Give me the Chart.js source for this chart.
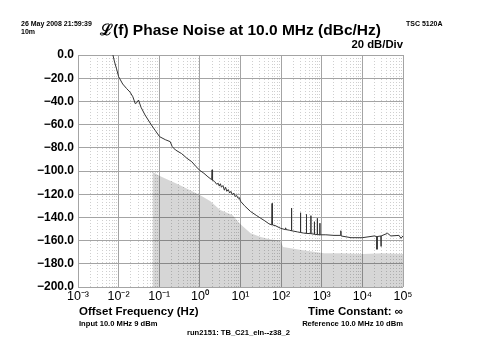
<!DOCTYPE html>
<html><head><meta charset="utf-8">
<script src="https://cdn.jsdelivr.net/npm/chart.js@4/dist/chart.umd.min.js"></script>
<style>
html,body{margin:0;padding:0;background:#fff;}
#wrap{position:relative;width:480px;height:360px;overflow:hidden;font-family:"Liberation Sans",Arial,sans-serif;font-weight:bold;color:#000;}
canvas{position:absolute;left:0;top:0;}
.t{position:absolute;white-space:nowrap;line-height:1;}
</style></head>
<body><div id="wrap">
<canvas id="c" width="480" height="360"></canvas>
<div class="t" style="left:21px;top:20px;font-size:7px;">26 May 2008 21:59:39</div>
<div class="t" style="left:21px;top:28px;font-size:7px;">10m</div>
<div class="t" style="left:406px;top:20px;font-size:7px;">TSC 5120A</div>
<div class="t" style="left:0;width:481px;text-align:center;top:22px;font-size:15.5px;">ℒ(f) Phase Noise at 10.0 MHz (dBc/Hz)</div>
<div class="t" style="right:77px;top:39px;font-size:11.3px;">20 dB/Div</div>
<div class="t" style="left:79px;top:306px;font-size:11.5px;">Offset Frequency (Hz)</div>
<div class="t" style="right:77px;top:306px;font-size:11.5px;">Time Constant: ∞</div>
<div class="t" style="left:79px;top:320px;font-size:7.6px;">Input 10.0 MHz 9 dBm</div>
<div class="t" style="right:77px;top:320px;font-size:7.6px;">Reference 10.0 MHz 10 dBm</div>
<div class="t" style="left:187px;top:329px;font-size:7.6px;">run2151: TB_C21_eln--z38_2</div>
</div>
<script>
// Measured phase noise L(f)
const noiseFreq = [0.00724,0.00794,0.00891,0.0100,0.0126,0.0158,0.0191,0.0224,0.0257,0.0282,0.0309,0.0355,0.0447,0.0631,0.0794,0.102,0.141,0.186,0.209,0.251,0.355,0.479,0.631,0.794,1.00,1.26,1.58,1.95,2.0,2.05,2.3,2.6,2.82,3.0,3.2,3.4,3.7,4.0,4.3,4.6,5.0,5.4,5.8,6.3,6.8,7.4,8.0,8.7,9.4,10,12.6,17.8,25.1,31.6,39.8,50.1,59,60,61,70.8,97.7,126,129,132,158,178,180,182,251,298,300,302,355,418,420,422,538,540,542,658,660,662,778,780,782,898,900,902,1260,2000,2900,2950,3000,5250,10000,19500,22700,22900,23100,28600,28800,29000,41700,50100,79400,89100,100000];
const noiseDb = [0,-6,-12,-18.7,-25,-29,-32,-36,-42,-41,-38.8,-45,-51.7,-60,-65,-70.4,-73,-74.7,-79,-81.9,-85,-89,-92,-96,-99.5,-102,-105,-107.5,-99,-108,-109,-111.5,-110.5,-113,-111,-114,-112.5,-116.5,-114,-117.5,-116,-119,-117.5,-120.5,-119,-122,-121,-123.5,-123,-126,-130,-135,-138.5,-140.8,-143,-145.5,-146.5,-128,-146.5,-147,-149.4,-150.5,-149,-150.5,-151,-151.5,-132,-151.5,-152.5,-153,-136,-153,-153.5,-153.8,-137.4,-153.8,-154,-138.5,-154,-154.5,-143.7,-154.5,-154.8,-140.8,-154.8,-155,-145,-155,-155,-155.5,-155.5,-151.5,-156,-157.5,-157.5,-156,-156.5,-167.5,-156.5,-156,-165,-156,-153.7,-156,-155.5,-158,-156];
// Measurement noise floor (grey area)
const floorFreq = [0.068,0.1,0.316,1.0,1.82,3.16,6.31,10,17.8,31.6,56.2,95.5,112,316,1150,3160,10000,31600,100000];
const floorDb = [-100.6,-104,-112,-120.7,-126,-133.6,-138,-146,-153.7,-157,-159,-160,-165.5,-168,-171,-171,-171.5,-171,-171.5];
// Axis ticks
const xDecades = [0.001,0.01,0.1,1,10,100,1000,10000,100000];
const xTickLabels = ['10⁻³','10⁻²','10⁻¹','10⁰','10¹','10²','10³','10⁴','10⁵'];
const yTicks = [0,-20,-40,-60,-80,-100,-120,-140,-160,-180,-200];
const yTickLabels = ['0.0','−20.0','−40.0','−60.0','−80.0','−100.0','−120.0','−140.0','−160.0','−180.0','−200.0'];

const xGrid = [];
for (let i = 0; i < xDecades.length - 1; i++) {
  for (let m = 1; m <= 9; m++) xGrid.push(+(xDecades[i] * m).toPrecision(3));
}
xGrid.push(xDecades[xDecades.length - 1]);
const isMajor = v => xDecades.some(d => Math.abs(v / d - 1) < 1e-6);
const FONT = '"Liberation Sans", Arial, sans-serif';

new Chart(document.getElementById('c'), {
  type: 'line',
  data: {
    datasets: [
      {
        data: noiseFreq.map((f, i) => ({x: f, y: noiseDb[i]})),
        borderColor: '#333333', borderWidth: 1, pointRadius: 0, fill: false, tension: 0, order: 1
      },
      {
        data: floorFreq.map((f, i) => ({x: f, y: floorDb[i]})),
        borderColor: 'rgba(0,0,0,0)', borderWidth: 0, pointRadius: 0,
        backgroundColor: 'rgba(0,0,0,0.16)', fill: 'start', tension: 0, order: 2
      }
    ]
  },
  options: {
    responsive: false, animation: false, devicePixelRatio: 1,
    layout: {padding: {top: 55, right: 77, bottom: 53, left: 0}},
    plugins: {legend: {display: false}, tooltip: {enabled: false}},
    scales: {
      x: {
        type: 'logarithmic', min: 0.001, max: 100000, position: 'bottom',
        afterBuildTicks: s => { s.ticks = xGrid.map(v => ({value: v})); },
        afterFit: s => { s.height = 20; },
        grid: {
          drawTicks: false,
          color: c => (c.tick && isMajor(c.tick.value)) ? 'rgba(0,0,0,0)' : '#cfcfcf',
          lineWidth: 1
        },
        border: {display: false, dash: [1, 2]},
        ticks: {
          autoSkip: false, maxRotation: 0, padding: 2, color: '#000',
          font: {family: FONT, size: 12.5},
          callback: v => { const i = xDecades.findIndex(d => Math.abs(v / d - 1) < 1e-6); return i >= 0 ? xTickLabels[i] : ''; }
        }
      },
      xMajor: {
        type: 'logarithmic', min: 0.001, max: 100000, position: 'bottom',
        afterBuildTicks: s => { s.ticks = xDecades.map(v => ({value: v})); },
        afterFit: s => { s.height = 0; },
        grid: {drawTicks: false, color: '#a4a4a4', lineWidth: 1},
        border: {display: false},
        ticks: {display: false}
      },
      y: {
        type: 'linear', min: -200, max: 0,
        afterBuildTicks: s => { s.ticks = yTicks.map(v => ({value: v})); },
        afterFit: s => { s.width = 78; },
        grid: {drawTicks: false, color: '#a4a4a4', lineWidth: 1},
        border: {display: false},
        ticks: {
          padding: 4, color: '#000',
          font: {family: FONT, size: 12, weight: 'bold'},
          callback: v => { const i = yTicks.indexOf(v); return i >= 0 ? yTickLabels[i] : ''; }
        }
      }
    }
  }
});
</script>
</body></html>
